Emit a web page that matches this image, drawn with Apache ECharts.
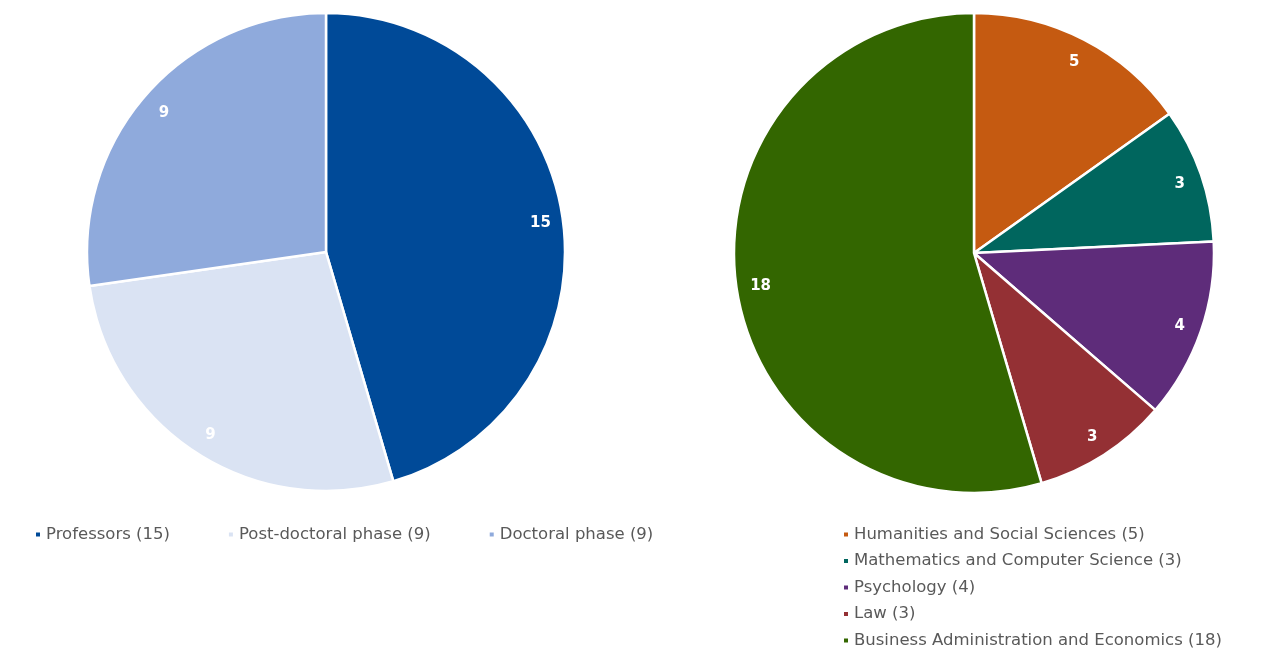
<!DOCTYPE html>
<html><head><meta charset="utf-8">
<script src="https://cdn.jsdelivr.net/npm/echarts@6/dist/echarts.min.js"></script>
<style>html,body{margin:0;padding:0;background:#fff}#c{width:1265px;height:659px}</style>
</head><body><div id="c"></div>
<script>
const statusNames = ['Professors', 'Post-doctoral phase', 'Doctoral phase'];
const statusValues = [15, 9, 9];
const statusColors = ['#004A98', '#DAE3F3', '#8FAADC'];

const fieldNames = ['Humanities and Social Sciences', 'Mathematics and Computer Science', 'Psychology', 'Law', 'Business Administration and Economics'];
const fieldValues = [5, 3, 4, 3, 18];
const fieldColors = ['#C55A11', '#00665E', '#5E2C7A', '#943034', '#336600'];

const FONT = '"DejaVu Sans", Verdana, sans-serif';
const valueOf = {};
statusNames.forEach((n, i) => valueOf[n] = statusValues[i]);
fieldNames.forEach((n, i) => valueOf[n] = fieldValues[i]);

function mainData(names, values, colors) {
  return names.map((n, i) => ({ name: n, value: values[i], itemStyle: { color: colors[i] } }));
}
function pieSeries(names, values, colors, center, R) {
  return [
    {
      type: 'pie', center: center, radius: [0, R], silent: true,
      startAngle: 90, clockwise: true, label: { show: false }, labelLine: { show: false },
      itemStyle: { borderColor: '#fff', borderWidth: 2.5 },
      data: mainData(names, values, colors)
    },
    {
      type: 'pie', center: center, radius: [R * 0.78, R], silent: true,
      startAngle: 90, clockwise: true, labelLine: { show: false },
      itemStyle: { color: 'rgba(0,0,0,0)', borderWidth: 0 },
      label: { show: true, position: 'inside', color: '#fff', fontFamily: FONT, fontWeight: 'bold', fontSize: 15, offset: [1, 2], formatter: p => p.value },
      data: names.map((n, i) => ({ name: n, value: values[i] }))
    }
  ];
}

const chart = echarts.init(document.getElementById('c'));
chart.setOption({
  animation: false,
  legend: [
    {
      data: statusNames, left: 29, top: 521, orient: 'horizontal', icon: 'rect',
      itemWidth: 6, itemHeight: 6, itemGap: 57, selectedMode: false,
      textStyle: { color: '#595959', fontFamily: FONT, fontSize: 16.5 },
      formatter: n => n + ' (' + valueOf[n] + ')'
    },
    {
      data: fieldNames, left: 837, top: 521, orient: 'vertical', icon: 'rect',
      itemWidth: 6, itemHeight: 6, itemGap: 9.5, selectedMode: false,
      textStyle: { color: '#595959', fontFamily: FONT, fontSize: 16.5 },
      formatter: n => n + ' (' + valueOf[n] + ')'
    }
  ],
  series: [
    ...pieSeries(statusNames, statusValues, statusColors, [326, 252], 239),
    ...pieSeries(fieldNames, fieldValues, fieldColors, [974, 253], 240)
  ]
});
</script></body></html>
